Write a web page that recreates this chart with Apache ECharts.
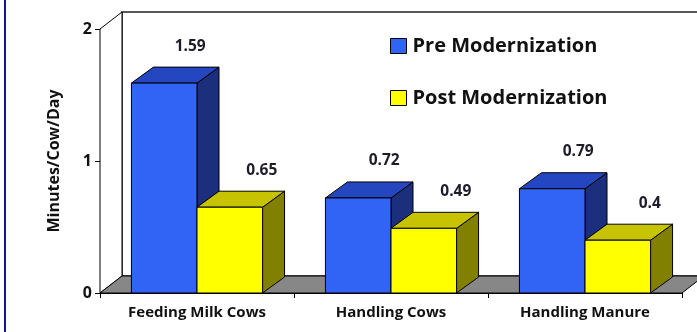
<!DOCTYPE html>
<html>
<head>
<meta charset="utf-8">
<script src="https://cdn.jsdelivr.net/npm/echarts@6/dist/echarts.min.js"></script>
<style>html,body{margin:0;padding:0;background:#fff}#c{width:697px;height:332px}</style>
</head>
<body>
<div id="c"></div>
<script>
const categories = ['Feeding Milk Cows', 'Handling Cows', 'Handling Manure'];
const preValues = [1.59, 0.72, 0.79];
const postValues = [0.65, 0.49, 0.4];
const seriesNames = ['Pre Modernization', 'Post Modernization'];
const yMin = 0, yMax = 2, yStep = 1;
const labelTexts = { pre: ['1.59', '0.72', '0.79'], post: ['0.65', '0.49', '0.4'] };

const DX = 22, DY = -16;
const FONT = '"Open Sans", "DejaVu Sans", sans-serif';
const palette = {
  pre: { front: '#3164F4', top: '#2446C0', side: '#1B2F7C' },
  post: { front: '#FFFF00', top: '#C8C300', side: '#828000' }
};

function barRenderer(key, isLeft, labelDx, labelDy) {
  const c = palette[key];
  return function (params, api) {
    const ci = api.value(0), v = api.value(1);
    const base = api.coord([ci, 0]);
    const top = api.coord([ci, v]);
    const catW = api.size([1, 0])[0];
    const bw = catW * 0.338;
    const x0 = isLeft ? base[0] - bw : base[0];
    const x1 = x0 + bw;
    const yb = base[1], yt = top[1];
    const st = { stroke: '#000', lineWidth: 1 };
    return {
      type: 'group',
      children: [
        { type: 'polygon', shape: { points: [[x1, yt], [x1 + DX, yt + DY], [x1 + DX, yb + DY], [x1, yb]] }, style: Object.assign({ fill: c.side }, st) },
        { type: 'polygon', shape: { points: [[x0, yt], [x0 + DX, yt + DY], [x1 + DX, yt + DY], [x1, yt]] }, style: Object.assign({ fill: c.top }, st) },
        { type: 'rect', shape: { x: x0, y: yt, width: bw, height: yb - yt }, style: Object.assign({ fill: c.front }, st) },
        { type: 'text', style: { text: labelTexts[key][params.dataIndex], x: x0 + bw / 2 + labelDx, y: yt + labelDy, fill: '#1c1c2a', font: 'bold 15.5px ' + FONT, align: 'center', verticalAlign: 'middle' } }
      ]
    };
  };
}

function wallRenderer(params, api) {
  const catW = api.size([1, 0])[0];
  const c0 = api.coord([0, yMin]);
  const cTop = api.coord([0, yMax]);
  const left = c0[0] - catW / 2;
  const right = left + categories.length * catW;
  const yb = c0[1], yt = cTop[1];
  const WX = 22, WY = -17;
  const st = { stroke: '#000', lineWidth: 1 };
  return {
    type: 'group',
    children: [
      { type: 'rect', shape: { x: left + WX, y: yt + WY, width: right - left + 40, height: yb - yt }, style: { fill: '#fff', stroke: '#222', lineWidth: 1.5 } },
      { type: 'polygon', shape: { points: [[left, yt], [left + WX, yt + WY], [left + WX, yb + WY], [left, yb]] }, style: Object.assign({ fill: '#fff' }, st) },
      { type: 'polygon', shape: { points: [[left, yb], [left + WX, yb + WY], [right + WX, yb + WY], [right, yb]] }, style: Object.assign({ fill: '#878787' }, st) }
    ]
  };
}

const chart = echarts.init(document.getElementById('c'), null, { renderer: 'canvas' });
chart.setOption({
  animation: false,
  backgroundColor: '#fff',
  grid: { left: 100, right: 15, top: 29, bottom: 39 },
  graphic: [
    { type: 'rect', shape: { x: 4, y: 0, width: 2, height: 332 }, style: { fill: '#16168c' }, z: 100 }
  ],
  legend: {
    orient: 'vertical', left: 390, top: 36, itemGap: 32, padding: 0,
    itemWidth: 16, itemHeight: 15, icon: 'rect',
    textStyle: { fontFamily: FONT, fontSize: 20, fontWeight: 'bold', color: '#111', padding: [0, 0, 0, 1] },
    data: [
      { name: seriesNames[0], itemStyle: { color: palette.pre.front, borderColor: '#000', borderWidth: 1 } },
      { name: seriesNames[1], itemStyle: { color: palette.post.front, borderColor: '#000', borderWidth: 1 } }
    ]
  },
  xAxis: {
    type: 'category', data: categories,
    axisLine: { lineStyle: { color: '#000', width: 1 } },
    axisTick: { show: true, length: 5, lineStyle: { color: '#000' } },
    axisLabel: { color: '#111', fontFamily: FONT, fontSize: 15, fontWeight: 'bold', margin: 12, interval: 0 }
  },
  yAxis: {
    type: 'value', min: yMin, max: yMax, interval: yStep,
    name: 'Minutes/Cow/Day', nameLocation: 'middle', nameGap: 38,
    nameTextStyle: { color: '#111', fontFamily: FONT, fontSize: 16, fontWeight: 'bold' },
    axisLine: { show: true, lineStyle: { color: '#000', width: 1 } },
    axisTick: { show: true, length: 5, lineStyle: { color: '#000' } },
    splitLine: { show: false },
    axisLabel: { color: '#111', fontFamily: FONT, fontSize: 16, fontWeight: 'bold', margin: 8 }
  },
  series: [
    { type: 'custom', name: 'walls', renderItem: wallRenderer, data: [[0, yMax]], z: 1, silent: true, encode: { x: 0, y: 1 } },
    { type: 'custom', name: seriesNames[0], color: palette.pre.front, renderItem: barRenderer('pre', true, 26, -37), data: preValues.map((v, i) => [i, v]), encode: { x: 0, y: 1 }, z: 2 },
    { type: 'custom', name: seriesNames[1], color: palette.post.front, renderItem: barRenderer('post', false, 32, -37), data: postValues.map((v, i) => [i, v]), encode: { x: 0, y: 1 }, z: 3 }
  ]
});
</script>
</body>
</html>
